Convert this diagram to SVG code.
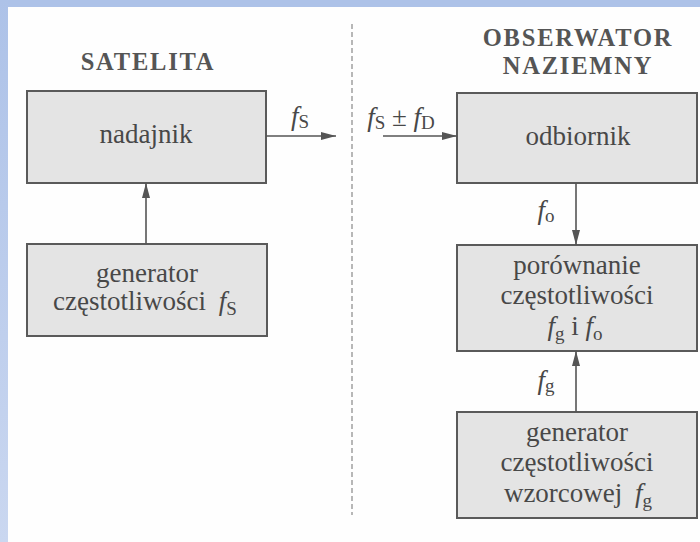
<svg xmlns="http://www.w3.org/2000/svg" width="700" height="542" viewBox="0 0 700 542">
<defs>
<linearGradient id="lb" x1="0" y1="0" x2="0" y2="1">
<stop offset="0" stop-color="#adc2e8"/>
<stop offset="1" stop-color="#cad7f0"/>
</linearGradient>
<marker id="ah" markerWidth="16" markerHeight="10" refX="15" refY="5" orient="auto" markerUnits="userSpaceOnUse">
<path d="M0,1 L15,5 L0,9 Z" fill="#555"/>
</marker>
<style>
.box{fill:#e4e4e4;stroke:#5a5a5a;stroke-width:2}
.t{font-family:"Liberation Serif","Times New Roman",serif;font-size:27px;fill:#484848;text-anchor:middle}
.h{font-family:"Liberation Serif","Times New Roman",serif;font-size:24.5px;letter-spacing:1.8px;font-weight:bold;fill:#555;text-anchor:middle}
.i{font-style:italic}
.s{font-size:19px}
.c{stroke:#555;stroke-width:1.6;fill:none}
.d{stroke:#888;stroke-width:1.2;stroke-dasharray:5 3;fill:none}
</style>
</defs>
<rect x="0" y="0" width="700" height="542" fill="#fefefe"/>
<rect x="0" y="0" width="700" height="7" fill="#adc2e8"/>
<rect x="0" y="0" width="8" height="542" fill="url(#lb)"/>

<line class="d" x1="352" y1="24" x2="352" y2="515"/>

<g id="headings">
<text class="h" x="148" y="70">SATELITA</text>
<text class="h" x="578" y="46">OBSERWATOR</text>
<text class="h" x="578" y="74">NAZIEMNY</text>
</g>

<g id="nadajnik">
<rect class="box" x="27" y="91" width="239" height="92"/>
<text class="t" x="146" y="143">nadajnik</text>
</g>
<g id="generator-s">
<rect class="box" x="27" y="244" width="240" height="92"/>
<text class="t" x="147" y="282">generator</text>
<text class="t" x="145" y="310">częstotliwości <tspan class="i" dx="6">f</tspan><tspan class="s" dy="5">S</tspan></text>
</g>
<g id="odbiornik">
<rect class="box" x="457" y="93" width="240" height="90"/>
<text class="t" x="578" y="145">odbiornik</text>
</g>
<g id="porownanie">
<rect class="box" x="457" y="245" width="240" height="106"/>
<text class="t" x="577" y="274">porównanie</text>
<text class="t" x="577" y="304">częstotliwości</text>
<text class="t" x="575" y="335"><tspan class="i">f</tspan><tspan class="s" dy="5">g</tspan><tspan dy="-5"> i </tspan><tspan class="i">f</tspan><tspan class="s" dy="5">o</tspan></text>
</g>
<g id="generator-wz">
<rect class="box" x="457" y="412" width="240" height="106"/>
<text class="t" x="577" y="441">generator</text>
<text class="t" x="577" y="471">częstotliwości</text>
<text class="t" x="578" y="502">wzorcowej <tspan class="i" dx="6">f</tspan><tspan class="s" dy="5">g</tspan></text>
</g>

<g id="connectors">
<line class="c" x1="266" y1="136" x2="336" y2="136" marker-end="url(#ah)"/>
<line class="c" x1="383" y1="136" x2="457" y2="136" marker-end="url(#ah)"/>
<line class="c" x1="146" y1="244" x2="146" y2="183" marker-end="url(#ah)"/>
<line class="c" x1="576" y1="183" x2="576" y2="245" marker-end="url(#ah)"/>
<line class="c" x1="576" y1="412" x2="576" y2="351" marker-end="url(#ah)"/>
<text class="t" x="300" y="125"><tspan class="i">f</tspan><tspan class="s" dy="3">S</tspan></text>
<text class="t" x="401" y="126"><tspan class="i">f</tspan><tspan class="s" dy="3">S</tspan><tspan dy="-3"> ± </tspan><tspan class="i">f</tspan><tspan class="s" dy="3">D</tspan></text>
<text class="t" x="546" y="219"><tspan class="i">f</tspan><tspan class="s" dy="3">o</tspan></text>
<text class="t" x="546" y="389"><tspan class="i">f</tspan><tspan class="s" dy="3">g</tspan></text>
</g>
</svg>
